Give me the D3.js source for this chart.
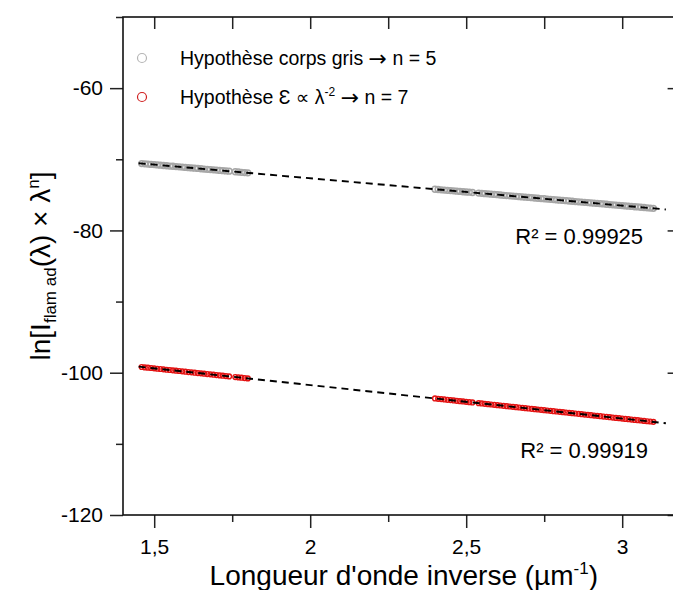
<!DOCTYPE html>
<html><head><meta charset="utf-8">
<script src="https://cdn.jsdelivr.net/npm/d3@7"></script>
<style>
body{margin:0;background:#fff}
svg{display:block}
text{font-family:"Liberation Sans",Arial,sans-serif;fill:#000}
</style>
</head><body><svg id="c" width="673" height="590"></svg>
<script>
// ---- data ----
const xTicks = [1.5, 2, 2.5, 3];
const xTickLabels = ["1,5", "2", "2,5", "3"];
const xMinorTicks = [1.75, 2.25, 2.75];
const xTopTicks = [1.5, 1.75, 2, 2.25, 2.5, 2.75, 3];
const yTicks = [-120, -100, -80, -60];
const yTickLabels = ["-120", "-100", "-80", "-60"];
const yMinorTicks = [-110, -90, -70, -50];

const xValues = [
 1.46,1.47,1.48,1.49,1.50,1.51,1.52,1.53,1.54,1.55,1.56,1.57,1.58,1.59,1.60,1.61,1.62,1.63,1.64,1.65,
 1.66,1.67,1.68,1.69,1.70,1.71,1.72,1.73,1.74,1.76,1.77,1.78,1.79,1.80,
 2.40,2.41,2.42,2.43,2.44,2.45,2.46,2.47,2.48,2.49,2.50,2.51,2.52,2.54,2.55,2.56,2.57,2.58,2.59,2.60,
 2.61,2.62,2.63,2.64,2.65,2.66,2.67,2.68,2.69,2.70,2.71,2.72,2.73,2.74,2.75,2.76,2.77,2.78,2.79,2.80,
 2.81,2.82,2.83,2.84,2.85,2.86,2.87,2.88,2.89,2.90,2.91,2.92,2.93,2.94,2.95,2.96,2.97,2.98,2.99,3.00,
 3.01,3.02,3.03,3.04,3.05,3.06,3.07,3.08,3.09,3.10
];
const grayValues = [
 -70.60,-70.64,-70.68,-70.72,-70.75,-70.79,-70.83,-70.87,-70.91,-70.95,-70.98,-71.02,-71.06,-71.10,-71.14,-71.18,-71.21,-71.25,-71.29,-71.33,
 -71.37,-71.41,-71.44,-71.48,-71.52,-71.56,-71.60,-71.64,-71.67,-71.75,-71.79,-71.83,-71.87,-71.90,
 -74.21,-74.25,-74.29,-74.33,-74.36,-74.40,-74.44,-74.48,-74.52,-74.56,-74.60,-74.63,-74.67,-74.75,-74.79,-74.83,-74.86,-74.90,-74.94,-74.98,
 -75.02,-75.06,-75.10,-75.13,-75.17,-75.21,-75.25,-75.29,-75.33,-75.36,-75.40,-75.44,-75.48,-75.52,-75.55,-75.59,-75.63,-75.67,-75.71,-75.75,
 -75.78,-75.82,-75.86,-75.90,-75.94,-75.98,-76.01,-76.05,-76.09,-76.13,-76.17,-76.21,-76.24,-76.28,-76.32,-76.36,-76.40,-76.44,-76.47,-76.51,
 -76.55,-76.59,-76.63,-76.67,-76.70,-76.74,-76.78,-76.82,-76.86,-76.90
];
const redValues = [
 -99.20,-99.25,-99.29,-99.34,-99.39,-99.44,-99.48,-99.53,-99.58,-99.62,-99.67,-99.72,-99.76,-99.81,-99.86,-99.91,-99.95,-100.00,-100.05,-100.09,
 -100.14,-100.19,-100.23,-100.28,-100.33,-100.38,-100.42,-100.47,-100.52,-100.61,-100.66,-100.70,-100.75,-100.80,
 -103.62,-103.67,-103.71,-103.76,-103.81,-103.85,-103.90,-103.95,-104.00,-104.04,-104.09,-104.14,-104.18,-104.28,-104.32,-104.37,-104.42,-104.47,-104.51,-104.56,
 -104.61,-104.65,-104.70,-104.75,-104.79,-104.84,-104.89,-104.94,-104.98,-105.03,-105.08,-105.12,-105.17,-105.22,-105.26,-105.31,-105.36,-105.41,-105.45,-105.50,
 -105.55,-105.59,-105.64,-105.69,-105.73,-105.78,-105.83,-105.88,-105.92,-105.97,-106.02,-106.06,-106.11,-106.16,-106.20,-106.25,-106.30,-106.35,-106.39,-106.44,
 -106.49,-106.53,-106.58,-106.63,-106.67,-106.72,-106.77,-106.82,-106.86,-106.91
];
const fitX = [1.45, 3.14];
const grayFit = [-70.56, -77.05];
const redFit = [-99.15, -107.10];
const r2Labels = ["R² = 0.99925", "R² = 0.99919"];
const r2Pos = [[3.067, -81.9], [3.083, -111.97]];

// ---- chart ----
const L = 123, T = 17, B = 515;
const svg = d3.select("#c");
const x = d3.scaleLinear().domain([1.4, 3.2]).range([L, L + 1.8 * 312]);
const R = x(3.2);
const y = d3.scaleLinear().domain([-120, -50]).range([B, T]);

// markers
function drawSeries(vals, color, r, sw) {
  svg.append("g").selectAll("circle").data(xValues.map((d, i) => [d, vals[i]]))
    .join("circle")
    .attr("cx", d => x(d[0])).attr("cy", d => y(d[1])).attr("r", r)
    .attr("fill", "none").attr("stroke", color).attr("stroke-width", sw);
}
drawSeries(grayValues, "#a6a6a6", 2.9, 1.5);
drawSeries(redValues, "#e31212", 2.4, 1.4);

// fit lines
const line = d3.line().x(d => x(d[0])).y(d => y(d[1]));
[grayFit, redFit].forEach(f => {
  svg.append("path").datum(fitX.map((d, i) => [d, f[i]]))
    .attr("d", line).attr("fill", "none").attr("stroke", "#000")
    .attr("stroke-width", 1.9).attr("stroke-dasharray", "7,5");
});

// axes
function styleAxis(g, fs) {
  g.select(".domain").remove();
  g.selectAll(".tick line").attr("stroke", "#222").attr("stroke-width", 1.5);
  g.selectAll(".tick text").attr("font-size", fs).attr("font-family", '"Liberation Sans",Arial,sans-serif').attr("fill", "#000");
}
const gxb = svg.append("g").attr("transform", `translate(0,${B})`)
  .call(d3.axisBottom(x).tickValues(xTicks).tickSize(13).tickPadding(11)
    .tickFormat((d, i) => xTickLabels[i]));
styleAxis(gxb, 21);
const gxbm = svg.append("g").attr("transform", `translate(0,${B})`)
  .call(d3.axisBottom(x).tickValues(xMinorTicks).tickSize(7).tickFormat(""));
styleAxis(gxbm, 21);
const gyl = svg.append("g").attr("transform", `translate(${L},0)`)
  .call(d3.axisLeft(y).tickValues(yTicks).tickSize(13).tickPadding(7)
    .tickFormat((d, i) => yTickLabels[i]));
styleAxis(gyl, 21);
const gylm = svg.append("g").attr("transform", `translate(${L},0)`)
  .call(d3.axisLeft(y).tickValues(yMinorTicks).tickSize(7).tickFormat(""));
styleAxis(gylm, 21);
const gxt = svg.append("g").attr("transform", `translate(0,${T})`)
  .call(d3.axisTop(x).tickValues(xTopTicks).tickSize(-12).tickFormat(""));
styleAxis(gxt, 21);
const gyr = svg.append("g").attr("transform", `translate(${R},0)`)
  .call(d3.axisRight(y).tickValues(yTicks).tickSize(-17).tickFormat(""));
styleAxis(gyr, 21);

// frame
svg.append("rect").attr("x", L).attr("y", T).attr("width", R - L).attr("height", B - T)
  .attr("fill", "none").attr("stroke", "#111").attr("stroke-width", 1.6);

// R² labels
r2Labels.forEach((t, i) => {
  svg.append("text").attr("x", x(r2Pos[i][0])).attr("y", y(r2Pos[i][1]))
    .attr("text-anchor", "end").attr("font-size", 22).text(t);
});

// legend
const arrowFont = '"DejaVu Sans",sans-serif';
const lg = svg.append("g");
lg.append("circle").attr("cx", 142).attr("cy", 58).attr("r", 4.5)
  .attr("fill", "none").attr("stroke", "#b5b5b5").attr("stroke-width", 1.2);
lg.append("circle").attr("cx", 142).attr("cy", 97).attr("r", 4.5)
  .attr("fill", "none").attr("stroke", "#d02020").attr("stroke-width", 1.2);
const t1 = lg.append("text").attr("x", 180).attr("y", 65).attr("font-size", 19.5);
t1.append("tspan").text("Hypothèse corps gris ");
t1.append("tspan").attr("font-family", arrowFont).attr("font-size", 22).attr("dy", 1).text("→");
t1.append("tspan").attr("dy", -1).text(" n = 5");
const t2 = lg.append("text").attr("x", 180).attr("y", 104).attr("font-size", 19.5);
t2.append("tspan").text("Hypothèse Ɛ ");
t2.append("tspan").attr("font-family", arrowFont).attr("font-size", 19).text("∝");
t2.append("tspan").text(" λ");
t2.append("tspan").attr("font-size", 12).attr("dy", -8).text("-2");
t2.append("tspan").attr("dy", 8).text(" ");
t2.append("tspan").attr("font-family", arrowFont).attr("font-size", 22).attr("dy", 1).text("→");
t2.append("tspan").attr("dy", -1).text(" n = 7");

// x title
const xt = svg.append("text").attr("x", (L + R) / 2).attr("y", 585)
  .attr("text-anchor", "middle").attr("font-size", 28);
xt.append("tspan").text("Longueur d'onde inverse (µm");
xt.append("tspan").attr("font-size", 17).attr("dy", -11).text("-1");
xt.append("tspan").attr("dy", 11).text(")");

// y title
const yt = svg.append("text").attr("transform", `translate(50,${(T + B) / 2}) rotate(-90)`)
  .attr("text-anchor", "middle").attr("font-size", 28);
yt.append("tspan").text("ln[I");
yt.append("tspan").attr("font-size", 17).attr("dy", 6).text("flam ad");
yt.append("tspan").attr("dy", -6).text("(λ) × λ");
yt.append("tspan").attr("font-size", 17).attr("dy", -11).text("n");
yt.append("tspan").attr("dy", 11).text("]");
</script>
</body></html>
